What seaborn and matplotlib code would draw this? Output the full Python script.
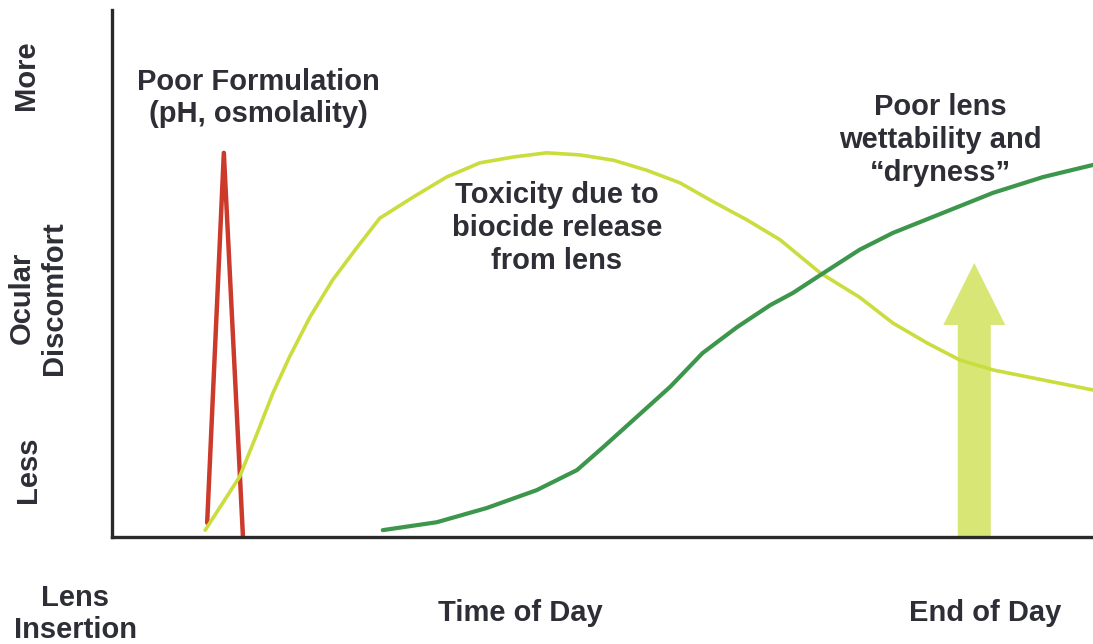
import numpy as np
import pandas as pd
import matplotlib
matplotlib.use("Agg")
import matplotlib.pyplot as plt
import seaborn as sns

# time of day (0 = lens insertion, 1 = end of day) and discomfort level (0 = less, 1 = more)
formulation_t = [0.097, 0.114, 0.1335]
formulation_v = [0.027, 0.729, 0.0]

toxicity_t = [0.095, 0.130, 0.148, 0.164, 0.181, 0.202, 0.225, 0.250, 0.273, 0.307, 0.341,
              0.375, 0.409, 0.443, 0.477, 0.511, 0.545, 0.579, 0.613, 0.647, 0.681, 0.722,
              0.762, 0.796, 0.831, 0.864, 0.898, 0.949, 1.0]
toxicity_v = [0.013, 0.114, 0.197, 0.273, 0.342, 0.418, 0.488, 0.550, 0.605, 0.645, 0.683,
              0.710, 0.721, 0.729, 0.725, 0.715, 0.696, 0.672, 0.636, 0.602, 0.564, 0.501,
              0.455, 0.406, 0.368, 0.336, 0.317, 0.298, 0.279]

dryness_t = [0.276, 0.331, 0.382, 0.433, 0.474, 0.501, 0.535, 0.569, 0.602, 0.637, 0.671,
             0.694, 0.722, 0.762, 0.796, 0.847, 0.898, 0.949, 1.0]
dryness_v = [0.013, 0.028, 0.055, 0.089, 0.127, 0.171, 0.228, 0.285, 0.349, 0.398, 0.440,
             0.463, 0.497, 0.545, 0.577, 0.615, 0.653, 0.683, 0.706]

arrow_t = 0.879
arrow_top = 0.520

labels = {
    "formulation": "Poor Formulation\n(pH, osmolality)",
    "toxicity": "Toxicity due to\nbiocide release\nfrom lens",
    "dryness": "Poor lens\nwettability and\n\u201cdryness\u201d",
}

sns.set_theme(style="white")
plt.rcParams["font.family"] = ["Liberation Sans", "DejaVu Sans"]

W, H = 1093, 644
fig = plt.figure(figsize=(W / 100, H / 100), dpi=100)
ax = fig.add_axes([112 / W, (H - 537) / H, 981 / W, 527 / H])

red = "#cc3a2c"
lime = "#cbdd3e"
green = "#3c964c"
txt = "#2e2e36"

form = pd.DataFrame({"t": formulation_t, "v": formulation_v})
tox = pd.DataFrame({"t": toxicity_t, "v": toxicity_v})
dry = pd.DataFrame({"t": dryness_t, "v": dryness_v})

sns.lineplot(data=form, x="t", y="v", ax=ax, color=red, lw=3.2, sort=False, estimator=None)
sns.lineplot(data=tox, x="t", y="v", ax=ax, color=lime, lw=2.6, sort=False, estimator=None)
sns.lineplot(data=dry, x="t", y="v", ax=ax, color=green, lw=3.0, sort=False, estimator=None)
for l in ax.lines:
    l.set_solid_joinstyle("round")
    l.set_solid_capstyle("round")

ax.arrow(arrow_t, 0, 0, arrow_top, width=33 / 981, head_width=62 / 981,
         head_length=62 / 527, length_includes_head=True,
         color="#d6e56e", ec="none", alpha=0.95, zorder=1)

ax.set_xlim(0, 1)
ax.set_ylim(0, 1)
ax.set_xlabel("")
ax.set_ylabel("")
ax.set_xticks([])
ax.set_yticks([])
for s in ["top", "right"]:
    ax.spines[s].set_visible(False)
for s in ["left", "bottom"]:
    ax.spines[s].set_color("#2a2a2a")
    ax.spines[s].set_linewidth(2.4)

fs = 21
kw = dict(fontsize=fs, fontweight="bold", color=txt, ha="center", va="center", linespacing=1.22)

def px(x, y):
    return x / W, 1 - y / H

ax.text(*px(258, 98), labels["formulation"], transform=fig.transFigure, **kw)
ax.text(*px(557, 228), labels["toxicity"], transform=fig.transFigure, **kw)
ax.text(*px(940, 140), labels["dryness"], transform=fig.transFigure, **kw)

fig.text(*px(26, 75), "More", rotation=90, **kw)
fig.text(*px(38, 298), "Ocular\nDiscomfort", rotation=90, **kw)
fig.text(*px(28, 470), "Less", rotation=90, **kw)
fig.text(*px(75, 614), "Lens\nInsertion", **kw)
fig.text(*px(520, 613), "Time of Day", **kw)
fig.text(*px(985, 613), "End of Day", **kw)

fig.savefig("out.png", dpi=100, facecolor="white")
